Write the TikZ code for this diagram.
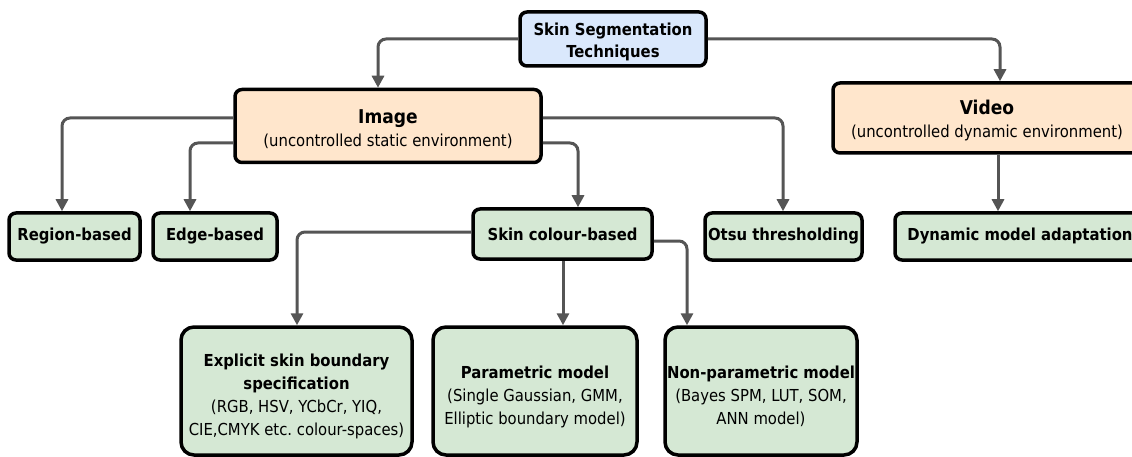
\documentclass[tikz,border=0pt]{standalone}
\usepackage{fontspec}
\setmainfont{DejaVu Sans Condensed}
\usetikzlibrary{arrows.meta}
\definecolor{rootfill}{HTML}{DAE8FC}
\definecolor{orangefill}{HTML}{FFE6CC}
\definecolor{greenfill}{HTML}{D5E8D4}
\definecolor{conncol}{HTML}{555555}
\newcommand{\topstrut}[1]{\rule{0pt}{#1}}
\tikzset{
  box/.style={draw=black, line width=3.5pt, rounded corners=7pt, align=center, inner sep=1pt,
    font=\fontsize{16.5}{23}\selectfont\frenchspacing},
  rootbox/.style={box, fill=rootfill},
  midbox/.style={box, fill=orangefill},
  leafbox/.style={box, fill=greenfill},
  bigbox/.style={box, fill=greenfill, rounded corners=13pt},
  conn/.style={draw=conncol, line width=3pt, rounded corners=8pt,
    -{Triangle[length=12pt,width=12pt]}},
}
\begin{document}
\begin{tikzpicture}[x=1pt,y=-1pt]
\useasboundingbox (0,0) rectangle (1132,457);
% nodes
\node[rootbox, minimum width=186pt, minimum height=54pt] (root) at (613,39)
  {\topstrut{18pt}\textbf{Skin Segmentation}\\[-1pt]\textbf{Techniques}};
\node[midbox, minimum width=306pt, minimum height=73pt] (image) at (388,126)
  {{\fontsize{19}{22}\selectfont\topstrut{20pt}\textbf{Image}}\\[0pt](uncontrolled static environment)};
\node[midbox, minimum width=308pt, minimum height=70pt] (video) at (987,118)
  {{\fontsize{19}{22}\selectfont\topstrut{20pt}\textbf{Video}}\\[0pt](uncontrolled dynamic environment)};
\node[leafbox, minimum width=131pt, minimum height=47pt] (region) at (74.5,236.5) {\textbf{Region-based}};
\node[leafbox, minimum width=124pt, minimum height=47pt] (edge) at (215,236.5) {\textbf{Edge-based}};
\node[leafbox, minimum width=179pt, minimum height=50pt] (skin) at (562.5,234) {\textbf{Skin colour-based}};
\node[leafbox, minimum width=157pt, minimum height=47pt] (otsu) at (783.5,236.5) {\textbf{Otsu thresholding}};
\node[leafbox, minimum width=250pt, minimum height=47pt] (dyn) at (1020,236.5) {\textbf{Dynamic model adaptation}};
\node[bigbox, minimum width=231pt, minimum height=128pt] (explicit) at (296.5,391)
  {\topstrut{24pt}\textbf{Explicit skin boundary}\\\textbf{specification}\\(RGB, HSV, YCbCr, YIQ,\\CIE,CMYK etc. colour-spaces)};
\node[bigbox, minimum width=204pt, minimum height=128pt] (param) at (535,391)
  {\topstrut{24pt}\textbf{Parametric model}\\(Single Gaussian, GMM,\\Elliptic boundary model)};
\node[bigbox, minimum width=192pt, minimum height=128pt] (nonparam) at (761,391)
  {\topstrut{24pt}\textbf{Non-parametric model}\\(Bayes SPM, LUT, SOM,\\ANN model)};
% connectors
\draw[conn] (root.west) -| (image.north -| 378,0);
\draw[conn] (root.east) -| (video.north -| 1000,0);
\draw[conn] (image.west |- 0,118) -| (region.north -| 62,0);
\draw[conn] (image.west |- 0,143) -| (edge.north -| 190,0);
\draw[conn] (image.east |- 0,118) -| (otsu.north -| 783,0);
\draw[conn] (image.east |- 0,143) -| (skin.north -| 578,0);
\draw[conn] (video.south -| 998,0) -- (dyn.north -| 998,0);
\draw[conn] (skin.west |- 0,232) -| (explicit.north -| 297,0);
\draw[conn] (skin.south -| 563,0) -- (param.north -| 563,0);
\draw[conn] (skin.east |- 0,241) -| (nonparam.north -| 687,0);
\end{tikzpicture}
\end{document}
